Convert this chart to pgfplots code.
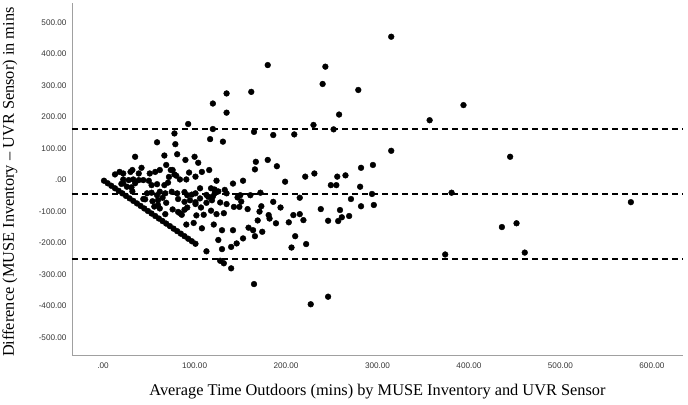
\documentclass[border=0pt]{standalone}
\usepackage{fontspec}
\setmainfont{Liberation Serif}
\setsansfont{Liberation Sans}
\usepackage{pgfplots}
\pgfplotsset{compat=1.18}
\definecolor{axgray}{RGB}{160,160,160}
\definecolor{ticktext}{RGB}{55,55,55}

\begin{document}
\begin{tikzpicture}
\begin{axis}[
  scale only axis,
  width=611bp, height=352bp,
  xmin=-34, xmax=634,
  ymin=-555, ymax=562,
  axis x line*=bottom,
  axis y line*=left,
  axis line style={draw=axgray, line width=0.9bp},
  major tick length=0pt,
  xtick={0,100,200,300,400,500,600},
  xticklabels={.00,100.00,200.00,300.00,400.00,500.00,600.00},
  ytick={-500,-400,-300,-200,-100,0,100,200,300,400,500},
  yticklabels={-500.00,-400.00,-300.00,-200.00,-100.00,.00,100.00,200.00,300.00,400.00,500.00},
  tick label style={font=\sffamily\fontsize{8.2}{9}\selectfont, text=ticktext},
  xticklabel style={yshift=-4bp},
  yticklabel style={xshift=-2bp},
  xlabel={Average Time Outdoors (mins) by MUSE Inventory and UVR Sensor},
  ylabel={Difference (MUSE Inventory – UVR Sensor) in mins},
  xlabel style={at={(axis description cs:0.5,-0.105)}, anchor=center, font=\fontsize{16.4}{18}\selectfont},
  ylabel style={at={(axis description cs:-0.1015,0.491)}, anchor=center, font=\fontsize{16.4}{18}\selectfont},
  clip=false,
]

% limits of agreement and mean difference
\addplot[black, line width=1.3bp, dash pattern=on 6bp off 4bp] coordinates {(-34,162) (634,162)};
\addplot[black, line width=1.3bp, dash pattern=on 6bp off 4bp] coordinates {(-34,-44) (634,-44)};
\addplot[black, line width=1.3bp, dash pattern=on 6bp off 4bp] coordinates {(-34,-250) (634,-250)};

\addplot[only marks, mark=*, mark size=2.9bp, black] table {
x y
315 455
180 365
243 360
240 305
279 286
162 280
135 275
120 243
394 238
135 214
258 208
357 190
93 178
230 175
120 162
252 161
165 153
78 148
186 143
209 145
117 130
131 122
59 120
79 114
315 93
445 74
35 74
67 78
81 82
100 74
104 55
90 64
69 48
76 32
42 39
94 24
108 26
116 32
166 34
167 58
180 64
190 44
221 11
231 21
256 11
265 15
282 39
295 48
13 18
18 26
22 21
30 26
32 32
39 21
51 21
57 26
62 32
74 32
78 18
72 10
80 14
84 2
91 2
101 11
22 2
28 0
33 2
39 0
44 0
50 -2
124 -2
142 -11
153 -2
199 -5
249 -16
255 -16
281 -21
122 -30
133 -31
150 -48
147 -55
161 -48
172 -40
215 -56
271 -60
294 -44
381 -40
82 -60
89 -69
95 -64
101 -70
106 -58
113 -72
119 -64
128 -71
135 -76
22 -10
31 -23
26 -21
35 -10
53 -16
59 -13
67 -16
71 -8
62 -37
68 -42
48 -42
53 -40
59 -48
75 -37
81 -42
92 -48
101 -42
46 -61
54 -67
60 -64
65 -56
60 -79
62 -90
69 -72
76 -93
82 -101
86 -110
92 -87
101 -76
115 -53
122 -42
135 -42
106 -26
118 -26
89 -38
97 -46
113 -47
120 -52
126 -36
151 -68
143 -85
149 -85
158 -92
171 -100
173 -83
186 -69
194 -87
181 -111
182 -122
189 -137
203 -134
208 -111
215 -108
219 -127
238 -92
259 -95
257 -130
261 -118
269 -114
246 -129
91 -141
99 -136
108 -153
121 -141
130 -159
142 -159
159 -151
164 -159
166 -178
174 -164
153 -185
146 -201
140 -212
130 -219
126 -190
206 -214
210 -178
222 -203
282 -83
296 -79
436 -149
452 -137
577 -70
118 -97
124 -108
132 -105
107 -87
102 -112
110 -110
89 -94
84 -105
169 -128
374 -236
461 -230
165 -330
227 -394
246 -370
1 -2
5 -10
9 -18
13 -26
17 -34
21 -42
25 -50
29 -58
33 -66
37 -74
41 -82
45 -90
49 -98
53 -106
57 -114
61 -122
65 -130
69 -138
73 -146
77 -154
81 -162
85 -170
89 -178
93 -186
97 -194
101 -202
113 -226
128 -256
132 -264
140 -280
20 -12
32 -36
44 -60
56 -84
68 -108
};
\end{axis}
\pgfresetboundingbox
\path[use as bounding box] ([xshift=-72bp,yshift=-50bp]current axis.south west) rectangle ([xshift=5bp,yshift=3bp]current axis.north east);
\end{tikzpicture}
\end{document}
